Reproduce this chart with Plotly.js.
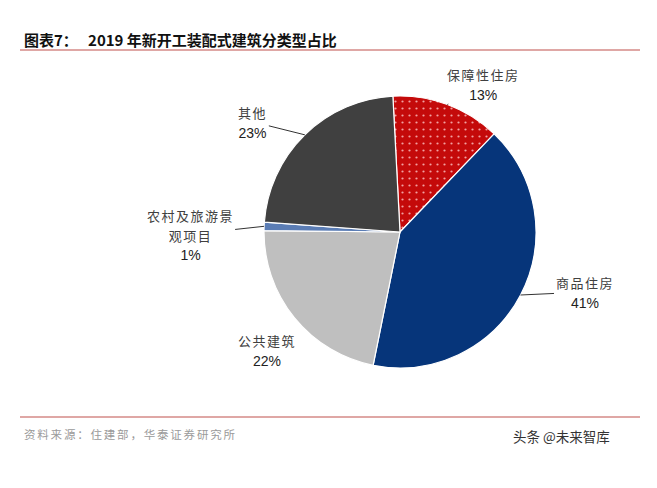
<!DOCTYPE html>
<html><head><meta charset="utf-8">
<script src="https://cdn.plot.ly/plotly-3.0.1.min.js"></script>
<style>html,body{margin:0;padding:0;background:#fff}#chart{width:657px;height:488px}</style>
</head><body><div id="chart"></div>
<script>
// ---- data ----
const categories = ['保障性住房', '商品住房', '公共建筑', '农村及旅游景观项目', '其他'];
const labelLines = ['保障性住房', '商品住房', '公共建筑', '农村及旅游景<br>观项目', '其他'];
const shares = [13, 41, 22, 1, 23];
const titleLead = '图表7：';
const titleMain = '2019 年新开工装配式建筑分类型占比';
const sourceText = '资料来源：住建部，华泰证券研究所';
const watermarkText = '头条 @未来智库';

// ---- styles ----
const colors = ['#C40A0A', '#06357A', '#BFBFBF', '#5B7DB5', '#404040'];
const W = 657, H = 488;
const cx = 400, cy = 232, R = 136;
const rotation = -3;
// label offsets (px) from slice edge point
const offX = [36, 64, -27, -74, -52];
const offY = [-21, -3, 53, 8, -13];
const showLeader = [true, true, false, true, true];

const total = shares.reduce((a, b) => a + b, 0);
const annotations = [];
let cum = 0;
shares.forEach((v, i) => {
  const mid = rotation + (cum + v / 2) / total * 360;
  cum += v;
  const rad = mid * Math.PI / 180;
  const px = cx + R * Math.sin(rad), py = cy - R * Math.cos(rad);
  const txt = '<span style="font-family:Noto Sans CJK SC;font-size:13px;color:#404040;letter-spacing:1.5px">' + labelLines[i] +
    '</span><br><span style="font-family:Liberation Sans, Arial;font-size:14px;color:#222">' + v + '%</span>';
  const base = {xref: 'paper', yref: 'paper', text: txt, align: 'center',
    font: {family: 'Liberation Sans, Arial', size: 15, color: '#222'}};
  if (showLeader[i]) {
    annotations.push(Object.assign(base, {x: px / W, y: 1 - py / H,
      showarrow: true, arrowhead: 0, arrowwidth: 1, arrowcolor: '#333',
      ax: offX[i], ay: offY[i], standoff: 0}));
  } else {
    annotations.push(Object.assign(base, {x: (px + offX[i]) / W, y: 1 - (py + offY[i]) / H,
      showarrow: false}));
  }
});

annotations.push({xref: 'paper', yref: 'paper', x: 22 / W, y: 1 - 39 / H, xanchor: 'left', yanchor: 'middle',
  text: '<b>' + titleLead + '&nbsp;&nbsp;&nbsp;' + titleMain + '</b>', showarrow: false,
  font: {family: 'Noto Sans CJK SC', size: 15, color: '#111'}});
annotations.push({xref: 'paper', yref: 'paper', x: 22 / W, y: 1 - 434 / H, xanchor: 'left', yanchor: 'middle',
  text: '<span style="letter-spacing:1.8px">' + sourceText + '</span>', showarrow: false,
  font: {family: 'Noto Sans CJK SC', size: 11.5, color: '#9A9A9A'}});
annotations.push({xref: 'paper', yref: 'paper', x: 511 / W, y: 1 - 436 / H, xanchor: 'left', yanchor: 'middle',
  text: watermarkText, showarrow: false,
  font: {family: 'Noto Sans CJK SC', size: 13.5, color: '#333'}});

const trace = {
  type: 'pie', labels: categories, values: shares, sort: false,
  direction: 'clockwise', rotation: rotation,
  textinfo: 'none', hoverinfo: 'label+percent',
  marker: {colors: colors, line: {color: '#fff', width: 1.2},
    pattern: {shape: ['.', '', '', '', ''], fgcolor: '#F2A0A0', bgcolor: colors, size: 7, solidity: 0.08}},
  domain: {x: [(cx - R) / W, (cx + R) / W], y: [1 - (cy + R) / H, 1 - (cy - R) / H]},
  showlegend: false
};

const layout = {
  width: W, height: H, margin: {l: 0, r: 0, t: 0, b: 0},
  paper_bgcolor: '#fff', plot_bgcolor: '#fff', showlegend: false,
  annotations: annotations,
  shapes: [
    {type: 'line', xref: 'paper', yref: 'paper', x0: 20 / W, x1: 640 / W, y0: 1 - 50 / H, y1: 1 - 50 / H,
      line: {color: '#C0504D', width: 1.2}},
    {type: 'line', xref: 'paper', yref: 'paper', x0: 20 / W, x1: 640 / W, y0: 1 - 417 / H, y1: 1 - 417 / H,
      line: {color: '#C0504D', width: 1.2}}
  ]
};
Plotly.newPlot('chart', [trace], layout, {displayModeBar: false, staticPlot: true});
</script></body></html>
